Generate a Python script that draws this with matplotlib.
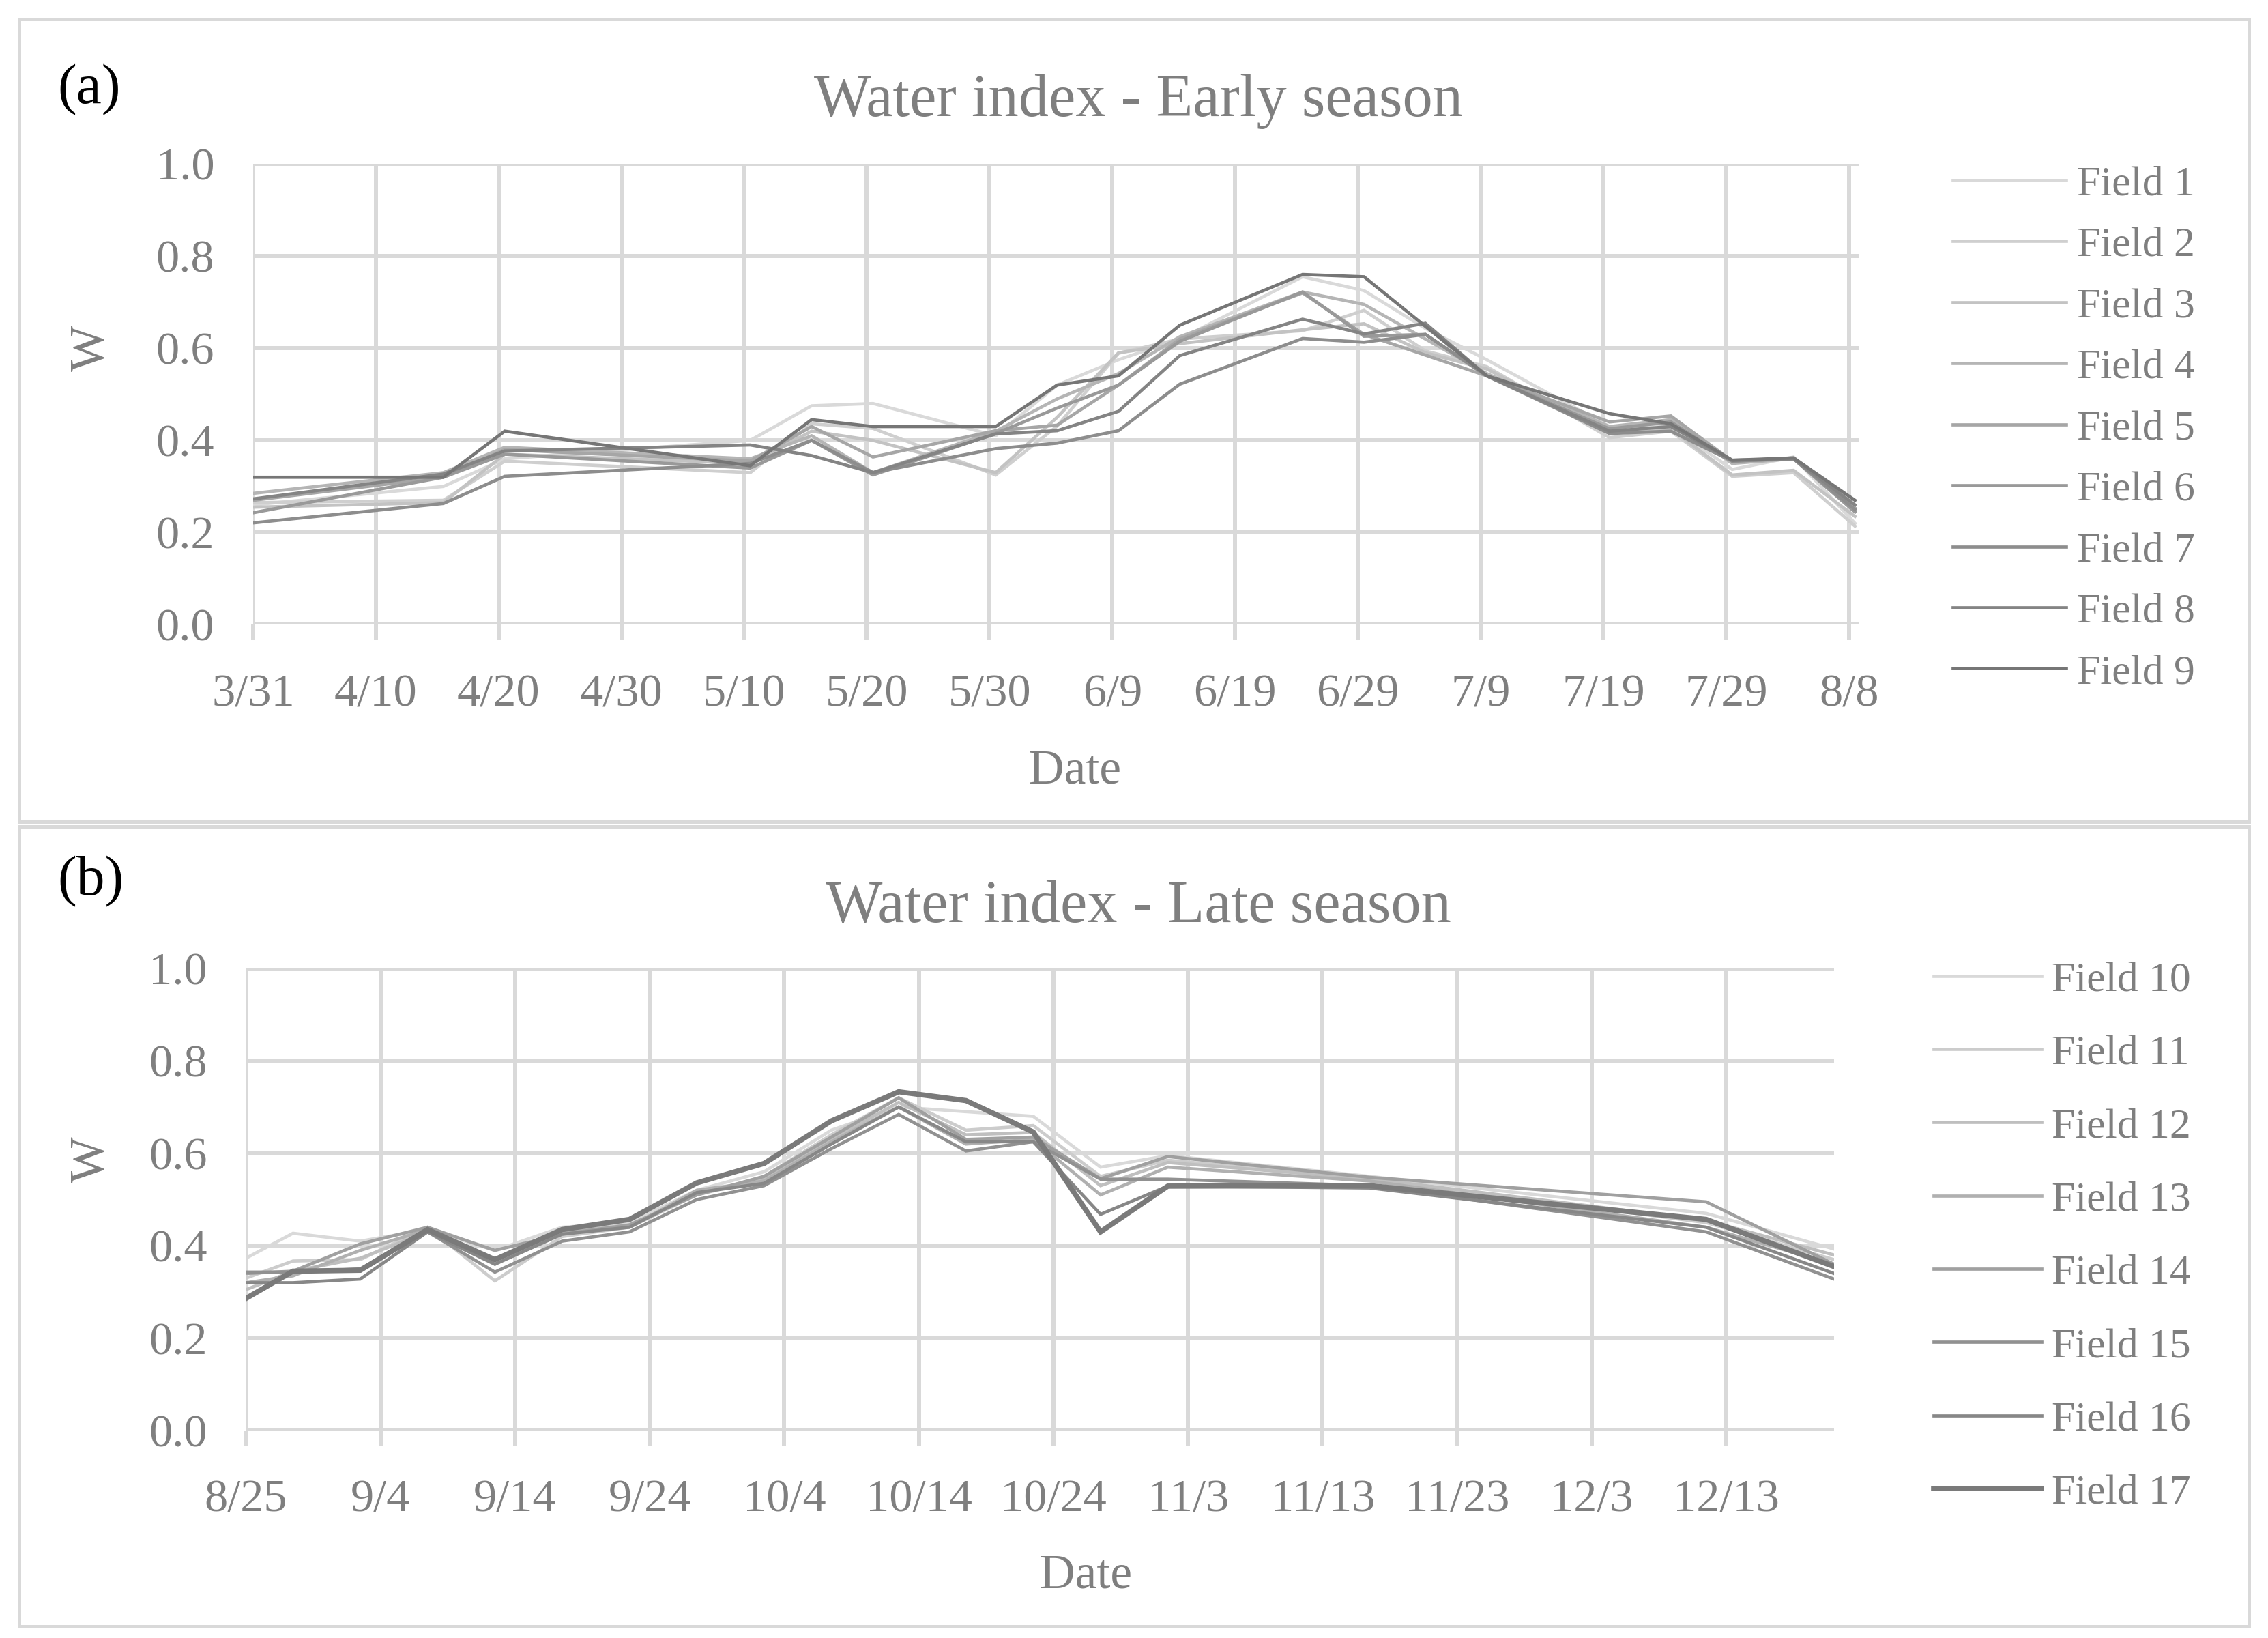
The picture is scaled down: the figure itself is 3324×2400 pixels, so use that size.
import matplotlib
matplotlib.use("Agg")
import matplotlib.pyplot as plt
import numpy as np
from matplotlib.patches import Rectangle
from matplotlib.ticker import FormatStrFormatter

plt.rcParams['font.family'] = ['Liberation Serif', 'DejaVu Serif']

# (a) early season: days after 3/31, None = no observation for that field
days_a = [0, 15.5, 20.5, 40.5, 45.5, 50.5, 60.5, 65.5, 70.5, 75.5, 85.5, 90.5, 95.5,
          100.5, 110.5, 115.5, 120.5, 125.5, 130.5]
ticks_a = ['3/31', '4/10', '4/20', '4/30', '5/10', '5/20', '5/30', '6/9', '6/19',
           '6/29', '7/9', '7/19', '7/29', '8/8']
names_a = ['Field 1', 'Field 2', 'Field 3', 'Field 4', 'Field 5', 'Field 6',
           'Field 7', 'Field 8', 'Field 9']
f1 = [0.26, 0.30, 0.36, 0.40, 0.475, 0.48, 0.41, 0.52, 0.575, 0.62, 0.755, 0.725, 0.643, 0.575, 0.43, 0.43, 0.337, 0.364, 0.22]
f2 = [0.265, 0.27, 0.355, 0.33, 0.436, 0.426, 0.325, 0.431, 0.589, 0.62, 0.638, 0.682, 0.594, 0.56, 0.406, 0.42, 0.322, 0.33, 0.214]
f3 = [0.255, 0.265, 0.37, 0.35, 0.42, 0.40, 0.33, 0.45, 0.59, 0.61, 0.64, 0.653, 0.59, 0.555, 0.415, 0.425, 0.325, 0.335, 0.235]
f4 = [0.285, 0.33, 0.385, 0.36, 0.41, 0.33, 0.42, 0.49, 0.545, 0.625, 0.722, 0.695, None, 0.545, 0.43, 0.445, 0.35, 0.36, 0.245]
f5 = [0.27, 0.32, 0.38, 0.355, 0.43, 0.364, 0.421, 0.433, 0.52, 0.62, 0.72, 0.63, None, 0.54, 0.44, 0.453, 0.355, 0.362, 0.253]
f6 = [0.243, 0.32, 0.37, 0.34, 0.40, 0.325, 0.415, 0.47, 0.52, 0.615, 0.722, 0.626, 0.63, 0.54, 0.425, 0.44, 0.355, 0.36, 0.245]
f7 = [0.221, 0.263, 0.322, 0.35, 0.40, 0.33, 0.382, 0.394, 0.421, 0.522, 0.621, 0.613, 0.63, 0.54, 0.415, 0.42, 0.355, 0.36, 0.25]
f8 = [0.273, 0.327, 0.377, 0.39, 0.367, 0.33, 0.414, 0.421, 0.463, 0.584, 0.663, 0.631, 0.654, 0.54, 0.42, 0.43, 0.357, 0.36, 0.26]
f9 = [0.32, 0.32, 0.42, 0.345, 0.445, 0.43, 0.43, 0.52, 0.54, 0.65, 0.76, 0.755, None, 0.54, 0.458, 0.436, 0.357, 0.362, 0.27]
series_a = [f1, f2, f3, f4, f5, f6, f7, f8, f9]
colors_a = ['#d9d9d9', '#cfcfcf', '#c3c3c3', '#b5b5b5', '#a6a6a6', '#999999',
            '#8d8d8d', '#848484', '#767676']

# (b) late season: days after 8/25
days_b = [0, 3.5, 8.5, 13.5, 18.5, 23.5, 28.5, 33.5, 38.5, 43.5, 48.5, 53.5, 58.5,
          63.5, 68.5, 83.5, 108.5, 118]
ticks_b = ['8/25', '9/4', '9/14', '9/24', '10/4', '10/14', '10/24', '11/3', '11/13',
           '11/23', '12/3', '12/13']
names_b = ['Field 10', 'Field 11', 'Field 12', 'Field 13', 'Field 14', 'Field 15',
           'Field 16', 'Field 17']
f10 = [0.373, 0.427, 0.41, 0.435, 0.39, 0.44, 0.45, 0.52, 0.56, 0.65, 0.70, 0.69, 0.68, 0.57, 0.595, 0.55, 0.47, 0.393]
f11 = [0.33, 0.367, 0.37, 0.44, 0.324, 0.42, 0.44, 0.51, 0.55, 0.64, 0.72, 0.65, 0.66, 0.55, 0.585, 0.545, 0.45, 0.37]
f12 = [0.305, 0.345, 0.373, 0.43, 0.36, 0.43, 0.445, 0.51, 0.545, 0.63, 0.71, 0.64, 0.645, 0.53, 0.58, 0.545, 0.455, 0.38]
f13 = [0.32, 0.335, 0.39, 0.435, 0.37, 0.43, 0.44, 0.52, 0.54, 0.625, 0.70, 0.62, 0.63, 0.51, 0.57, 0.54, 0.44, 0.36]
f14 = [0.34, 0.345, 0.404, 0.44, 0.39, 0.425, 0.445, 0.51, 0.55, 0.635, 0.72, 0.63, 0.635, 0.545, 0.593, 0.548, 0.495, 0.36]
f15 = [0.343, 0.343, 0.35, 0.43, 0.343, 0.41, 0.43, 0.50, 0.53, 0.61, 0.684, 0.605, 0.625, 0.544, 0.544, 0.53, 0.43, 0.328]
f16 = [0.32, 0.32, 0.328, 0.43, 0.36, 0.425, 0.44, 0.515, 0.535, 0.62, 0.70, 0.625, 0.625, 0.468, 0.529, 0.525, 0.44, 0.34]
f17 = [0.286, 0.345, 0.347, 0.435, 0.37, 0.435, 0.457, 0.536, 0.578, 0.67, 0.733, 0.714, 0.646, 0.43, 0.529, 0.53, 0.457, 0.355]
series_b = [f10, f11, f12, f13, f14, f15, f16, f17]
colors_b = ['#d9d9d9', '#cccccc', '#bfbfbf', '#b0b0b0', '#a0a0a0', '#919191',
            '#878787', '#7a7a7a']
widths_b = [1.4] * 7 + [2.3]

txt = '#7f7f7f'
grid = '#d9d9d9'

fig = plt.figure(figsize=(13.85, 10), dpi=240)


def draw(ax, days, series, names, colors, widths, ticks, xmax):
    for vals, name, c, w in zip(series, names, colors, widths):
        # missing points are skipped and the line joins the neighbours (like Excel)
        x = [d for d, v in zip(days, vals) if v is not None]
        y = [v for v in vals if v is not None]
        ax.plot(x, y, color=c, lw=w, label=name, solid_joinstyle='miter')
    ax.set_xlim(0, xmax)
    ax.set_ylim(0, 1.0)
    ax.set_xticks(np.arange(len(ticks)) * 10)
    ax.set_xticklabels(ticks)
    ax.set_yticks(np.arange(0, 1.01, 0.2))
    ax.yaxis.set_major_formatter(FormatStrFormatter('%.1f'))
    ax.grid(True, color=grid, lw=1.8)
    ax.set_axisbelow(True)
    for s in ax.spines.values():
        s.set_visible(False)
    ax.tick_params(axis='y', length=0, pad=17, labelsize=20.5, labelcolor=txt)
    ax.tick_params(axis='x', length=6.5, width=1.8, color=grid, pad=15,
                   labelsize=20.5, labelcolor=txt)


ax1 = fig.add_axes([175 / 1568, 1 - 431 / 1130, 1110 / 1568, 318 / 1130])
draw(ax1, days_a, series_a, names_a, colors_a, [1.4] * 9, ticks_a, 130.8)
ax1.legend(loc='upper left', bbox_to_anchor=(1350 / 1568, 1 - 114 / 1130),
           bbox_transform=fig.transFigure, frameon=False, fontsize=18.5,
           labelcolor=txt, handlelength=2.7, handletextpad=0.25,
           labelspacing=0.54, borderpad=0, borderaxespad=0)

ax2 = fig.add_axes([170 / 1568, 1 - 987 / 1130, 1098 / 1568, 319 / 1130])
draw(ax2, days_b, series_b, names_b, colors_b, widths_b, ticks_b, 118)
ax2.legend(loc='upper left', bbox_to_anchor=(1337 / 1568, 1 - 663 / 1130),
           bbox_transform=fig.transFigure, frameon=False, fontsize=18.5,
           labelcolor=txt, handlelength=2.55, handletextpad=0.25,
           labelspacing=0.83, borderpad=0, borderaxespad=0)

# titles, panel letters and axis labels
fig.text(787 / 1568, 1 - 70 / 1130, 'Water index - Early season', ha='center', va='center',
         fontsize=26.5, color=txt)
fig.text(787 / 1568, 1 - 626 / 1130, 'Water index - Late season', ha='center', va='center',
         fontsize=26.5, color=txt)
fig.text(40 / 1568, 1 - 62 / 1130, '(a)', ha='left', va='center', fontsize=25, color='black')
fig.text(40 / 1568, 1 - 608 / 1130, '(b)', ha='left', va='center', fontsize=25, color='black')
fig.text(743 / 1568, 1 - 532 / 1130, 'Date', ha='center', va='center', fontsize=21.5, color=txt)
fig.text(751 / 1568, 1 - 1087 / 1130, 'Date', ha='center', va='center', fontsize=21.5, color=txt)
fig.text(63 / 1568, 1 - 240 / 1130, 'W', ha='center', va='center', rotation=90,
         fontsize=21.5, color=txt)
fig.text(63 / 1568, 1 - 800 / 1130, 'W', ha='center', va='center', rotation=90,
         fontsize=21.5, color=txt)

# chart area borders
for y0, y1 in [(13, 567), (570, 1122)]:
    fig.add_artist(Rectangle((13 / 1568, 1 - y1 / 1130), 1542 / 1568, (y1 - y0) / 1130,
                             transform=fig.transFigure, fill=False, ec=grid, lw=1.5))

fig.savefig('out.png', dpi=240, facecolor='white')
